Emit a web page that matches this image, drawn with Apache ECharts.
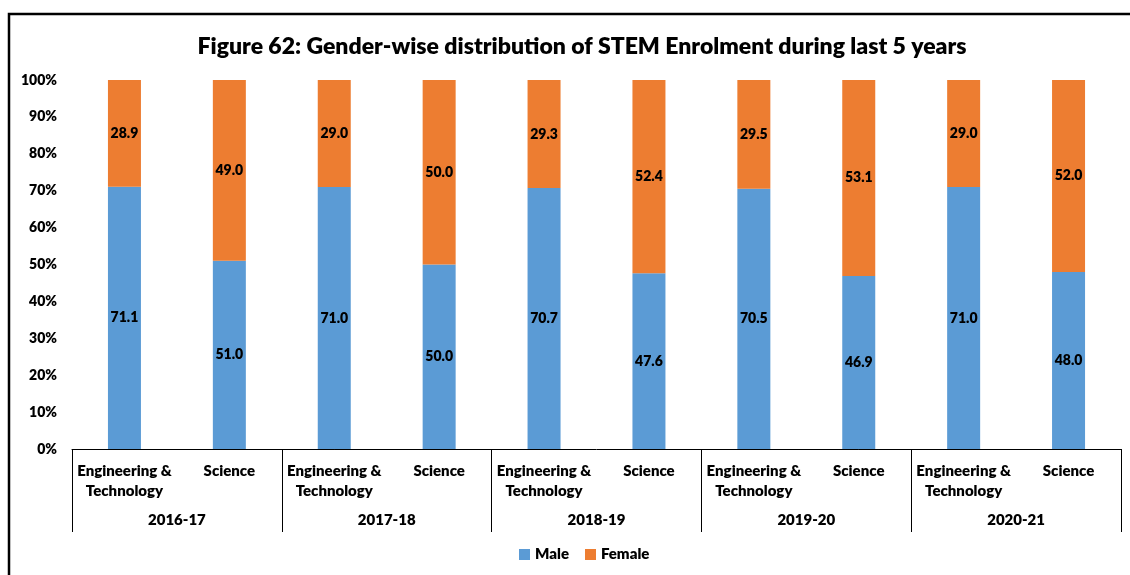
<!DOCTYPE html>
<html>
<head>
<meta charset="utf-8">
<script src="https://cdn.jsdelivr.net/npm/echarts@6/dist/echarts.min.js"></script>
<style>
html,body{margin:0;padding:0;background:#fff;}
#main{width:1130px;height:575px;}
</style>
</head>
<body>
<div id="main"></div>
<script>
const years = ['2016-17', '2017-18', '2018-19', '2019-20', '2020-21'];
const fields = ['Engineering &\nTechnology', 'Science'];
const male = [71.1, 51.0, 71.0, 50.0, 70.7, 47.6, 70.5, 46.9, 71.0, 48.0];
const female = [28.9, 49.0, 29.0, 50.0, 29.3, 52.4, 29.5, 53.1, 29.0, 52.0];
const yTicks = ['0%', '10%', '20%', '30%', '40%', '50%', '60%', '70%', '80%', '90%', '100%'];

const categories = [];
years.forEach(() => fields.forEach(f => categories.push(f)));

const FONT = 'Lato';
const W = 800;
const chart = echarts.init(document.getElementById('main'));
const labelStyle = {
  show: true, position: 'inside', color: '#000', fontWeight: W,
  fontFamily: FONT, fontSize: 14,
  formatter: p => Number(p.value).toFixed(1)
};
chart.setOption({
  animation: false,
  textStyle: { fontFamily: FONT },
  title: {
    text: 'Figure 62: Gender-wise distribution of STEM Enrolment during last 5 years',
    left: 577, top: 30, textAlign: 'center',
    textStyle: { fontFamily: FONT, fontWeight: W, fontSize: 23, color: '#000' }
  },
  graphic: [{
    type: 'polyline', silent: true,
    shape: { points: [[9, 580], [9, 14], [1135, 14]] },
    style: { stroke: '#000', lineWidth: 2.5, fill: null }
  }],
  legend: {
    bottom: 8, left: 514, itemWidth: 11, itemHeight: 11, itemGap: 16,
    icon: 'rect',
    textStyle: { fontFamily: FONT, fontWeight: W, fontSize: 15, color: '#000' },
    data: ['Male', 'Female']
  },
  grid: { left: 72, right: 9, top: 80, bottom: 126, containLabel: false },
  xAxis: [{
    type: 'category', data: categories, position: 'bottom',
    axisLine: { show: true, lineStyle: { color: '#000', width: 1 } },
    axisTick: { show: false },
    axisLabel: {
      interval: 0, margin: 12, color: '#000', fontWeight: W,
      fontFamily: FONT, fontSize: 15, lineHeight: 20, align: 'center'
    }
  }, {
    type: 'category', data: years, position: 'bottom', offset: 0,
    axisLine: { show: false },
    axisTick: { show: true, length: 83, interval: 0, lineStyle: { color: '#000', width: 1 } },
    axisLabel: {
      interval: 0, margin: 64, color: '#000', fontWeight: W,
      fontFamily: FONT, fontSize: 15
    }
  }],
  yAxis: {
    type: 'value', min: 0, max: 100, interval: 10,
    axisLine: { show: false }, axisTick: { show: false },
    splitLine: { show: false },
    axisLabel: {
      margin: 15, color: '#000', fontWeight: W, fontFamily: FONT, fontSize: 14,
      formatter: v => yTicks[Math.round(v / 10)]
    }
  },
  series: [{
    name: 'Male', type: 'bar', stack: 'a', data: male, barWidth: 33,
    itemStyle: { color: '#5B9BD5' }, label: labelStyle
  }, {
    name: 'Female', type: 'bar', stack: 'a', data: female, barWidth: 33,
    itemStyle: { color: '#ED7D31' }, label: labelStyle
  }]
});
</script>
</body>
</html>
